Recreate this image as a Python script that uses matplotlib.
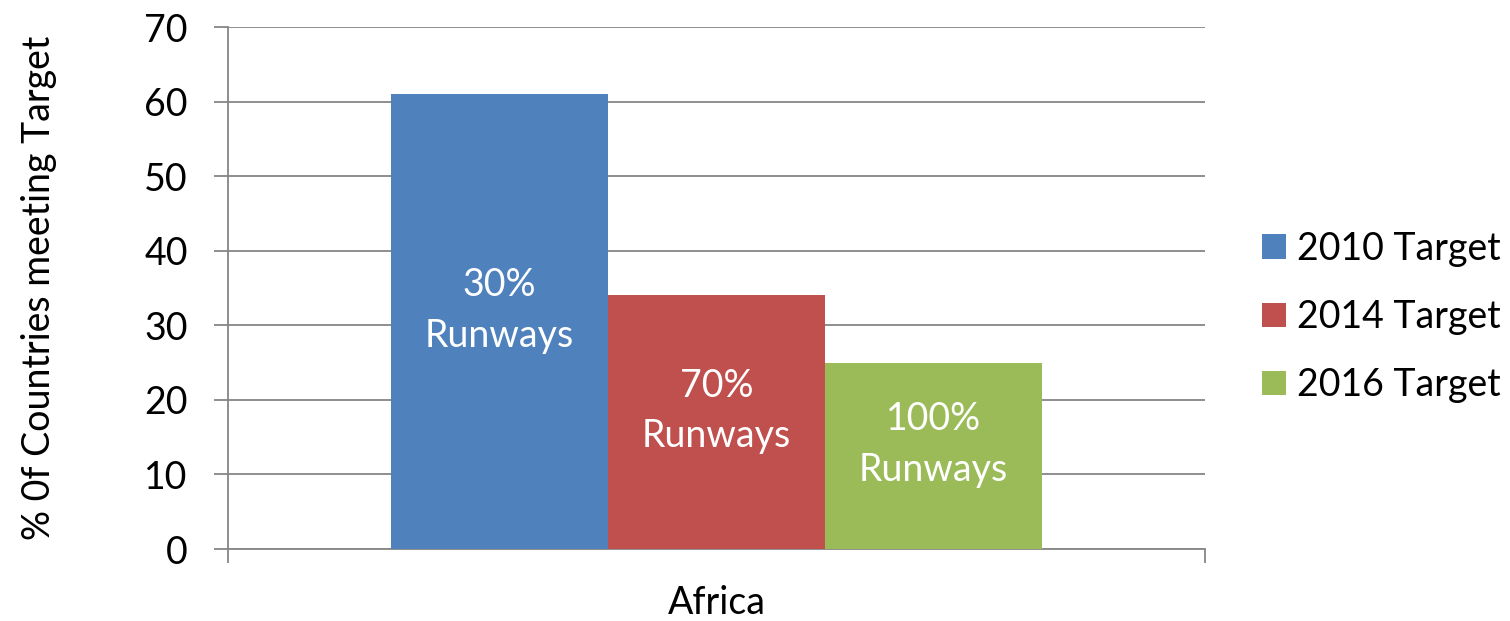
import matplotlib
matplotlib.use("Agg")
import matplotlib.pyplot as plt
from matplotlib.patches import Patch
from matplotlib.ticker import FixedLocator

categories = ["Africa"]
series_names = ["2010 Target", "2014 Target", "2016 Target"]
values = [61, 34, 25]
bar_labels = ["30%\nRunways", "70%\nRunways", "100%\nRunways"]
colors = ["#4F81BD", "#C0504D", "#9BBB59"]
y_ticks = [0, 10, 20, 30, 40, 50, 60, 70]

plt.rcParams['font.family'] = ['Lato', 'DejaVu Sans']
FS = 27
W, H = 1510, 621
fig = plt.figure(figsize=(W / 100, H / 100), dpi=100)
ax = fig.add_axes([228 / W, (H - 549) / H, (1205 - 228) / W, (549 - 27) / H])

n = len(series_names)
bw = 1.0 / (n + 1.5)
start = 0.5 - n * bw / 2
grid_c = "#868686"
for i, (name, v, lab, c) in enumerate(zip(series_names, values, bar_labels, colors)):
    x = start + i * bw + bw / 2
    ax.bar(x, v, width=bw, color=c, zorder=3)
    ax.annotate(lab, (x, v / 2), xytext=(0, 8), textcoords="offset points",
                ha="center", va="center", color="white", fontsize=FS,
                linespacing=1.5, zorder=4)

ax.set_xlim(0, 1)
ax.set_ylim(0, 70)
ax.set_yticks(y_ticks)
ax.yaxis.grid(True, color=grid_c, linewidth=1.3, zorder=0)
ax.set_axisbelow(True)
for s in ["top", "right"]:
    ax.spines[s].set_visible(False)
for s in ["left", "bottom"]:
    ax.spines[s].set_color(grid_c)
    ax.spines[s].set_linewidth(1.3)
ax.tick_params(axis="y", length=10, width=1.3, color=grid_c, pad=19, labelsize=FS)
ax.set_xticks([0.5])
ax.set_xticklabels(categories)
ax.xaxis.set_minor_locator(FixedLocator([0, 1]))
ax.tick_params(axis="x", which="major", length=0, pad=26, labelsize=FS)
ax.tick_params(axis="x", which="minor", length=10, width=1.3, color=grid_c)
ax.set_ylabel("% 0f Countries meeting Target", fontsize=FS, labelpad=0)
ax.yaxis.set_label_coords(-(228 - 57) / (1205 - 228), 0.5)

handles = [Patch(facecolor=c, edgecolor="none") for c in colors]
fig.legend(handles, series_names, loc="center left", bbox_to_anchor=(1262 / W, (H - 317) / H),
           frameon=False, fontsize=FS, borderpad=0, borderaxespad=0,
           handlelength=0.63, handleheight=0.63, handletextpad=0.3, labelspacing=0.86)

fig.savefig("out.png", dpi=100)
